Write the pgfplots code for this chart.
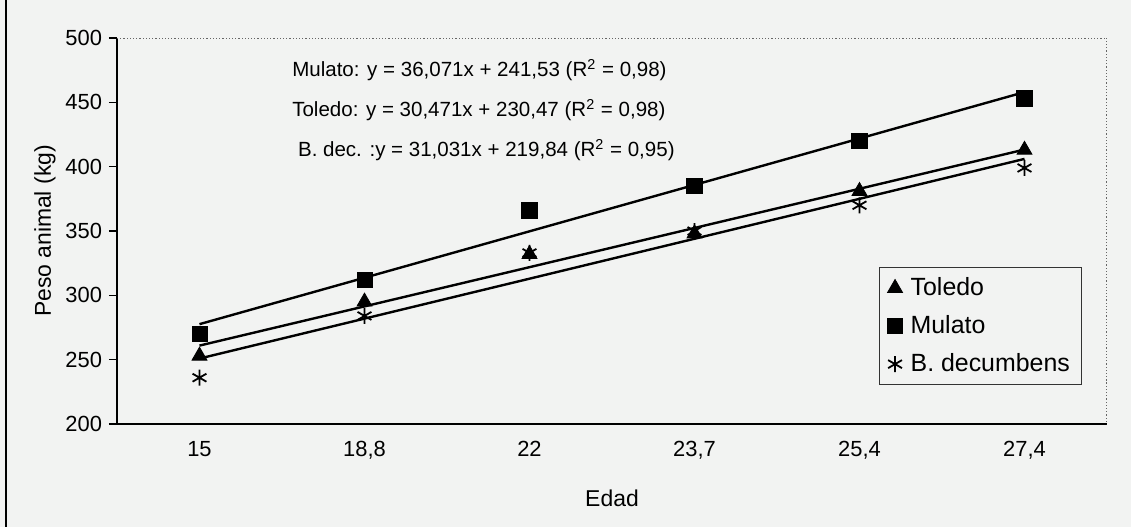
\documentclass[border=0pt]{standalone}
\usepackage{pgfplots}
\pgfplotsset{compat=1.18}
\usepackage{fontspec}
\setmainfont{Liberation Sans}
\definecolor{bg}{HTML}{F2F3F2}

\begin{document}
\begin{tikzpicture}
\fill[bg] (-58.5bp,-51.5bp) rectangle (507bp,212bp);
\path[use as bounding box] (-58.5bp,-51.5bp) rectangle (507bp,212bp);
\draw[black, line width=0.6bp] (-55.5bp,-51.5bp) -- (-55.5bp,212bp);
\begin{axis}[
    scale only axis,
    width=495bp, height=193bp,
    xmin=0.5, xmax=6.5,
    ymin=200, ymax=500,
    axis x line*=bottom,
    axis y line*=left,
    axis line style={black, line width=0.6bp},
    xtick={1,...,6},
    xticklabels={15,{18,8},22,{23,7},{25,4},{27,4}},
    minor xtick={0.5,1.5,...,6.5},
    ytick={200,250,...,500},
    tick align=outside,
    major tick length=4bp,
    minor tick length=4bp,
    x tick style={draw=none},
    minor x tick style={black, line width=0.6bp},
    y tick style={black, line width=0.6bp},
    tick label style={font=\fontsize{11}{13}\selectfont},
    /pgf/number format/assume math mode=true,
    xticklabel style={yshift=-1bp},
    xlabel={Edad},
    ylabel={Peso animal (kg)},
    every axis x label/.style={at={(axis description cs:0.5,-0.192)}, anchor=center,
        font=\fontsize{11.5}{13}\selectfont},
    every axis y label/.style={at={(axis description cs:-0.0727,0.5)}, anchor=center, rotate=90,
        font=\fontsize{11.5}{13}\selectfont},
    legend style={at={(axis description cs:0.975,0.101)}, anchor=south east,
        draw=black!80, fill=bg, font=\fontsize{12.5}{14}\selectfont,
        row sep=4.5bp, column sep=2bp, inner xsep=4bp, inner ysep=3bp},
    legend cell align=left,
]
% data points
\addplot[only marks, mark=triangle*, mark size=4.3bp, black]
    coordinates {(1,253)(2,295)(3,332)(4,348)(5,381)(6,413)};
\addlegendentry{Toledo}
\addplot[only marks, mark=square*, mark size=3.8bp, black]
    coordinates {(1,270)(2,312)(3,366)(4,385)(5,420)(6,453)};
\addlegendentry{Mulato}
\addplot[only marks, mark=asterisk, mark size=4bp, black, line width=0.9bp]
    coordinates {(1,236)(2,284)(3,333)(4,350)(5,370)(6,399)};
\addlegendentry{B. decumbens}

% trend lines
\addplot[black, line width=1.2bp, forget plot] coordinates {(1,277.60)(6,457.96)};
\addplot[black, line width=1.2bp, forget plot] coordinates {(1,260.94)(6,413.30)};
\addplot[black, line width=1.2bp, forget plot] coordinates {(1,250.87)(6,406.03)};

\draw[black!60, densely dotted, line width=0.6bp]
    (rel axis cs:0,1) -- (rel axis cs:1,1) -- (rel axis cs:1,0);

\node[anchor=west, inner xsep=0pt, font=\fontsize{10.3}{12}\selectfont] at (axis cs:1.56,475)
    {Mulato: y = 36,071x + 241,53 (R\textsuperscript{2} = 0,98)};
\node[anchor=west, inner xsep=0pt, font=\fontsize{10.3}{12}\selectfont] at (axis cs:1.56,444)
    {Toledo: y = 30,471x + 230,47 (R\textsuperscript{2} = 0,98)};
\node[anchor=west, inner xsep=0pt, font=\fontsize{10.3}{12}\selectfont] at (axis cs:1.595,413)
    {B. dec. :y = 31,031x + 219,84 (R\textsuperscript{2} = 0,95)};
\end{axis}
\end{tikzpicture}
\end{document}
